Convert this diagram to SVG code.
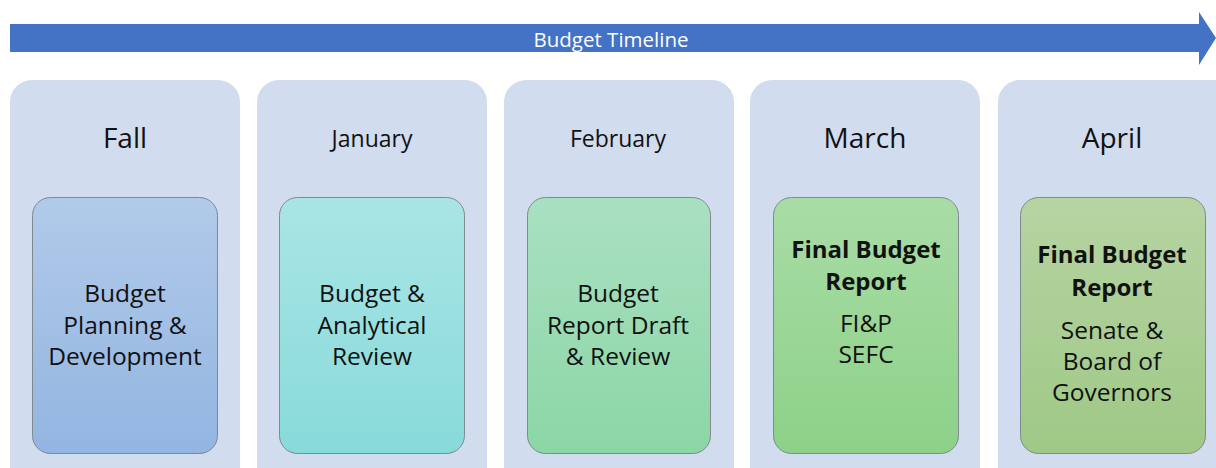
<svg xmlns="http://www.w3.org/2000/svg" width="1216" height="468" viewBox="0 0 1216 468">
<defs>
<linearGradient id="g1" x1="0" y1="0" x2="0" y2="1"><stop offset="0" stop-color="#b1cae9"/><stop offset="1" stop-color="#93b5e1"/></linearGradient>
<linearGradient id="g2" x1="0" y1="0" x2="0" y2="1"><stop offset="0" stop-color="#aae5e5"/><stop offset="1" stop-color="#88dada"/></linearGradient>
<linearGradient id="g3" x1="0" y1="0" x2="0" y2="1"><stop offset="0" stop-color="#aae0c2"/><stop offset="1" stop-color="#8bd6a5"/></linearGradient>
<linearGradient id="g4" x1="0" y1="0" x2="0" y2="1"><stop offset="0" stop-color="#a9dca6"/><stop offset="1" stop-color="#8dd188"/></linearGradient>
<linearGradient id="g5" x1="0" y1="0" x2="0" y2="1"><stop offset="0" stop-color="#b6d4a2"/><stop offset="1" stop-color="#9fc886"/></linearGradient>
<style>
.panel{fill:#d1dcee}
.box{stroke:#7f8a8f;stroke-width:1}
text{font-family:"Open Sans","Noto Sans","Liberation Sans",sans-serif;fill:#111111;text-anchor:middle}
.hl{font-size:28px}
.hs{font-size:23px}
.body{font-size:24.5px}
.bold{font-size:24px;font-weight:bold}
.title{font-size:20.5px;fill:#ffffff}
</style>
</defs>
<g id="timeline-arrow">
<polygon points="10,24 1199,24 1199,12 1216,38 1199,65 1199,52 10,52" fill="#4472c4"/>
<text class="title" x="611" y="47">Budget Timeline</text>
</g>
<g id="fall">
<rect class="panel" x="10" y="80" width="230" height="410" rx="22"/>
<text class="hl" x="125" y="148">Fall</text>
<rect class="box" x="32.5" y="197.5" width="185" height="256" rx="18" fill="url(#g1)"/>
<text class="body" x="125" y="302">Budget</text>
<text class="body" x="125" y="334">Planning &amp;</text>
<text class="body" x="125" y="365">Development</text>
</g>
<g id="january">
<rect class="panel" x="257" y="80" width="230" height="410" rx="22"/>
<text class="hs" x="372" y="147">January</text>
<rect class="box" x="279.5" y="197.5" width="185" height="256" rx="18" fill="url(#g2)"/>
<text class="body" x="372" y="302">Budget &amp;</text>
<text class="body" x="372" y="334">Analytical</text>
<text class="body" x="372" y="365">Review</text>
</g>
<g id="february">
<rect class="panel" x="504" y="80" width="230" height="410" rx="22"/>
<text class="hs" x="618" y="147">February</text>
<rect class="box" x="527.5" y="197.5" width="183" height="256" rx="18" fill="url(#g3)"/>
<text class="body" x="618" y="302">Budget</text>
<text class="body" x="618" y="334">Report Draft</text>
<text class="body" x="618" y="365">&amp; Review</text>
</g>
<g id="march">
<rect class="panel" x="750" y="80" width="230" height="410" rx="22"/>
<text class="hl" x="865" y="148">March</text>
<rect class="box" x="773.5" y="197.5" width="185" height="256" rx="18" fill="url(#g4)"/>
<text class="bold" x="866" y="258">Final Budget</text>
<text class="bold" x="866" y="290">Report</text>
<text class="body" x="866" y="332">FI&amp;P</text>
<text class="body" x="866" y="363">SEFC</text>
</g>
<g id="april">
<rect class="panel" x="998" y="80" width="240" height="410" rx="22"/>
<text class="hl" x="1112" y="148">April</text>
<rect class="box" x="1020.5" y="197.5" width="185" height="256" rx="18" fill="url(#g5)"/>
<text class="bold" x="1112" y="263">Final Budget</text>
<text class="bold" x="1112" y="296">Report</text>
<text class="body" x="1112" y="339">Senate &amp;</text>
<text class="body" x="1112" y="370">Board of</text>
<text class="body" x="1112" y="401">Governors</text>
</g>
<g id="connectors"></g>
</svg>
